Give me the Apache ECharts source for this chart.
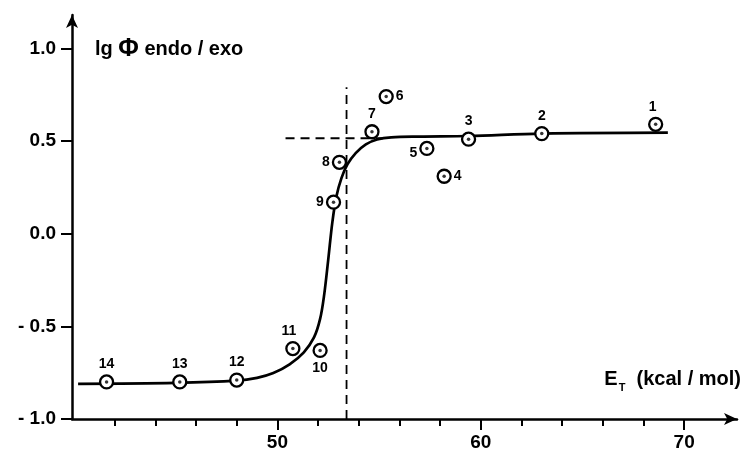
<!DOCTYPE html>
<html>
<head>
<meta charset="utf-8">
<script src="https://cdn.jsdelivr.net/npm/echarts@6/dist/echarts.min.js"></script>
<style>
html,body{margin:0;padding:0;background:#fff;}
#c{width:747px;height:454px;}
</style>
</head>
<body>
<div id="c"></div>
<script>
// ---- data ----
const pointIds = ['1','2','3','4','5','6','7','8','9','10','11','12','13','14'];
const pointET  = [68.6, 63.0, 59.4, 58.2, 57.35, 55.35, 54.65, 53.05, 52.76, 52.1, 50.76, 48.0, 45.2, 41.6];
const pointLg  = [0.59, 0.54, 0.51, 0.31, 0.46, 0.74, 0.55, 0.385, 0.17, -0.63, -0.62, -0.79, -0.80, -0.80];
const labelSide = ['top','top','top','right','left','right','top','left','left','bottom','top','top','top','top'];

const curveET = [40.2, 45.0, 48.0, 49.0, 49.8, 50.6, 51.3, 51.8, 52.1, 52.3, 52.5, 52.7, 52.9, 53.15, 53.45, 53.85, 54.35, 54.9, 55.6, 57.0, 59.4, 63.0, 69.2];
const curveLg = [-0.81, -0.805, -0.793, -0.778, -0.752, -0.705, -0.64, -0.56, -0.46, -0.33, -0.14, 0.06, 0.2, 0.3, 0.375, 0.435, 0.482, 0.508, 0.52, 0.524, 0.527, 0.54, 0.545];

const vDashET = [53.4, 53.4];
const vDashLg = [-1.0, 0.79];
const hDashET = [50.4, 55.2];
const hDashLg = [0.515, 0.515];

const yTicks = [-1.0, -0.5, 0.0, 0.5, 1.0];
const xMajor = [50, 60, 70];
const xMinor = [42, 44, 46, 48, 52, 54, 56, 58, 62, 64, 66, 68];

// ---- build ----
const FONT = 'Liberation Sans';
const pairs = (xs, ys) => xs.map((x, i) => [x, ys[i]]);

const pts = pointET.map((x, i) => {
  const side = labelSide[i];
  let off = [0, 0];
  if (pointIds[i] === '1') off = [-3, 0];
  if (pointIds[i] === '5') off = [0, 5];
  if (pointIds[i] === '11') off = [-4, 0];
  return {
    value: [x, pointLg[i]],
    label: {show: true, formatter: pointIds[i], position: side, distance: side === 'top' || side === 'bottom' ? 3 : 2, offset: off}
  };
});

const chart = echarts.init(document.getElementById('c'), null, {renderer: 'canvas'});
const axisCommon = {
  type: 'value', min: 39.9, max: 72.6, position: 'bottom', gridIndex: 0,
  splitLine: {show: false}
};
chart.setOption({
  animation: false,
  backgroundColor: '#fff',
  grid: {left: 72, right: 10, top: 15, bottom: 35, containLabel: false},
  xAxis: [
    Object.assign({}, axisCommon, {
      axisLine: {show: true, onZero: false, symbol: ['none', 'arrow'], symbolSize: [9, 13], lineStyle: {color: '#000', width: 2.5}},
      axisTick: {show: true, customValues: xMajor, length: 11, lineStyle: {color: '#000', width: 2}},
      axisLabel: {show: true, customValues: xMajor, margin: 14, color: '#000', fontFamily: FONT, fontWeight: 'bold', fontSize: 19}
    }),
    Object.assign({}, axisCommon, {
      axisLine: {show: false, onZero: false},
      axisTick: {show: true, customValues: xMinor, length: 7, lineStyle: {color: '#000', width: 2}},
      axisLabel: {show: false}
    })
  ],
  yAxis: {
    type: 'value', min: -1.0, max: 1.18,
    splitLine: {show: false},
    axisLine: {show: true, onZero: false, symbol: ['none', 'arrow'], symbolSize: [9, 13], lineStyle: {color: '#000', width: 2.5}},
    axisTick: {show: true, customValues: yTicks, length: 11, lineStyle: {color: '#000', width: 2}},
    axisLabel: {show: true, customValues: yTicks, margin: 16, color: '#000', fontFamily: FONT, fontWeight: 'bold', fontSize: 19,
      formatter: v => (v < 0 ? '- ' : '') + Math.abs(v).toFixed(1)}
  },
  series: [
    {type: 'line', data: pairs(curveET, curveLg), smooth: 0.35, showSymbol: false, symbol: 'none',
      lineStyle: {color: '#000', width: 2.7}, z: 2, silent: true},
    {type: 'line', data: pairs(vDashET, vDashLg), showSymbol: false, symbol: 'none',
      lineStyle: {color: '#000', width: 1.8, type: [9, 6]}, z: 1, silent: true},
    {type: 'line', data: pairs(hDashET, hDashLg), showSymbol: false, symbol: 'none',
      lineStyle: {color: '#000', width: 1.8, type: [9, 6]}, z: 1, silent: true},
    {type: 'scatter', data: pts, symbol: 'circle', symbolSize: 13,
      itemStyle: {color: '#fff', borderColor: '#000', borderWidth: 2.3, opacity: 1},
      label: {color: '#000', fontFamily: FONT, fontWeight: 'bold', fontSize: 14},
      z: 3, silent: true},
    {type: 'scatter', data: pairs(pointET, pointLg), symbol: 'circle', symbolSize: 3.5,
      itemStyle: {color: '#000'}, z: 4, silent: true}
  ],
  graphic: [
    {type: 'text', left: 95, top: 37, z: 10, style: {
      text: '{a|lg }{p|Φ}{a| endo / exo}',
      rich: {
        a: {fontFamily: FONT, fontWeight: 'bold', fontSize: 20, fill: '#000'},
        p: {fontFamily: FONT, fontWeight: 'bold', fontSize: 25, fill: '#000'}
      }
    }},
    {type: 'text', right: 6, top: 369, z: 10, style: {
      text: '{a|E}{s|T}{a|  (kcal / mol)}',
      rich: {
        a: {fontFamily: FONT, fontWeight: 'bold', fontSize: 20, fill: '#000', verticalAlign: 'bottom'},
        s: {fontFamily: FONT, fontWeight: 'bold', fontSize: 11, fill: '#000', verticalAlign: 'bottom', padding: [0, 0, -4, 1]}
      }
    }}
  ]
});
</script>
</body>
</html>
